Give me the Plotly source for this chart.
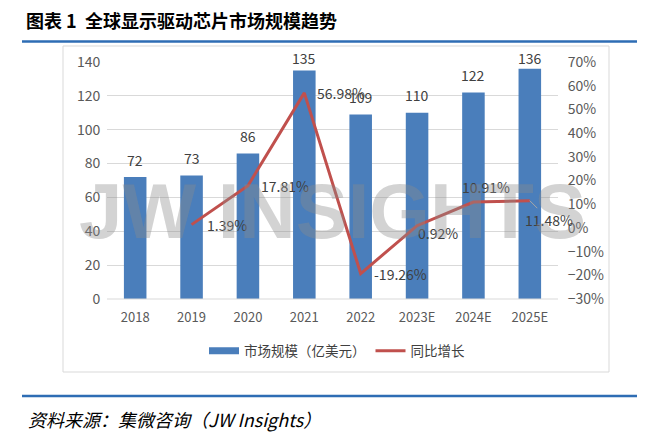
import plotly.graph_objects as go

categories = ["2018", "2019", "2020", "2021", "2022", "2023E", "2024E", "2025E"]
market_size = [72, 73, 86, 135, 109, 110, 122, 136]
growth_cats = ["2019", "2020", "2021", "2022", "2023E", "2024E", "2025E"]
growth = [0.0139, 0.1781, 0.5698, -0.1926, 0.0092, 0.1091, 0.1148]
growth_labels = ["1.39%", "17.81%", "56.98%", "-19.26%", "0.92%", "10.91%", "11.48%"]
# label offsets (px) relative to each point: (dx, dy up)
growth_label_offsets = [(35, 0), (37, 0), (37, 0), (40, 0), (21, -7), (13, 15), (19, -19)]

W, H = 660, 438
L, R, T, B = 107, 558, 62, 299
Y_MAX = 140

def px(x):
    return (x - L) / (R - L)

def py(y):
    return (B - y) / (B - T)

FONT = "Noto Sans CJK SC"
TXT = "#404040"
BLUE = "#4A7EBB"
RED = "#C0504D"

fig = go.Figure()
fig.add_trace(go.Bar(
    x=categories, y=market_size, name="市场规模（亿美元）", showlegend=False,
    marker=dict(color=BLUE, line=dict(width=0)),
))
# legend entry styled as a wide flat swatch
fig.add_trace(go.Scatter(
    x=[None], y=[None], name="市场规模（亿美元）", mode="lines",
    line=dict(color=BLUE, width=7),
))
fig.add_trace(go.Scatter(
    x=growth_cats, y=growth, name="同比增长", yaxis="y2", mode="lines",
    line=dict(color=RED, width=3),
))

annotations = []
for c, v in zip(categories, market_size):
    top_px = B - v / Y_MAX * (B - T)
    shift = min(17.5, top_px - 58)
    annotations.append(dict(x=categories.index(c), y=v, xref="x", yref="y", text=str(v), showarrow=False,
                            yanchor="middle", yshift=shift, font=dict(size=14, color=TXT, family=FONT)))
for c, v, t, (dx, dy) in zip(growth_cats, growth, growth_labels, growth_label_offsets):
    xi = categories.index(c)
    if t == "11.48%":
        annotations.append(dict(x=xi, y=v, xref="x", yref="y2", text=t, showarrow=True,
                                arrowhead=0, arrowwidth=1, arrowcolor="#a6a6a6",
                                ax=dx, ay=-dy, standoff=0,
                                font=dict(size=14, color=TXT, family=FONT)))
    else:
        annotations.append(dict(x=xi, y=v, xref="x", yref="y2", text=t, showarrow=False,
                                xshift=dx, yshift=dy, font=dict(size=14, color=TXT, family=FONT)))

# watermark
annotations.append(dict(x=px(332), y=py(211), xref="paper", yref="paper", text="<b>JW INSIGHTS</b>",
                        showarrow=False, font=dict(size=78, color="rgba(140,140,140,0.38)",
                                                   family="Liberation Sans")))
# title
annotations.append(dict(x=px(24), y=py(20), xref="paper", yref="paper", xanchor="left", yanchor="middle",
                        text="<b>图表 1  全球显示驱动芯片市场规模趋势</b>", showarrow=False,
                        font=dict(size=18, color="#000000", family=FONT)))
# source
annotations.append(dict(x=px(26), y=py(419), xref="paper", yref="paper", xanchor="left", yanchor="middle",
                        text="<i>资料来源：集微咨询（JW Insights）</i>", showarrow=False,
                        font=dict(size=18, color="#000000", family=FONT)))

shapes = [
    dict(type="line", xref="paper", yref="paper", x0=px(22), x1=px(637), y0=py(41.5), y1=py(41.5),
         line=dict(color="#2E6DB4", width=2.5)),
    dict(type="rect", xref="paper", yref="paper", x0=px(63), x1=px(609), y0=py(46), y1=py(372),
         line=dict(color="#D9D9D9", width=1), layer="below"),
    dict(type="line", xref="paper", yref="paper", x0=px(22), x1=px(637), y0=py(396), y1=py(396),
         line=dict(color="#2E6DB4", width=2.5)),
    dict(type="line", xref="paper", yref="paper", x0=0, x1=1, y0=0, y1=0,
         line=dict(color="#D9D9D9", width=1)),
]

fig.update_layout(
    width=W, height=H,
    margin=dict(l=L, r=W - R, t=T, b=H - B, autoexpand=False),
    paper_bgcolor="white", plot_bgcolor="white",
    font=dict(family=FONT, color=TXT, size=13),
    bargap=0.6,
    showlegend=True,
    legend=dict(orientation="h", x=px(337), y=py(351), xanchor="center", yanchor="middle",
                font=dict(size=13.5, color=TXT, family=FONT),
                traceorder="normal"),
    xaxis=dict(type="category", categoryorder="array", categoryarray=categories,
               range=[-0.5, len(categories) - 0.5], autorange=False,
               showgrid=False, showline=False, ticks="outside", ticklen=6,
               tickcolor="rgba(0,0,0,0)", tickfont=dict(size=13, color="#595959")),
    yaxis=dict(range=[0, Y_MAX], dtick=20, showgrid=True, gridcolor="#D9D9D9", gridwidth=1,
               zeroline=False, showline=False, ticks="outside", ticklen=3,
               tickcolor="rgba(0,0,0,0)", tickfont=dict(size=14, color="#595959")),
    yaxis2=dict(range=[-0.3, 0.7], dtick=0.1, tickformat=".0%", overlaying="y", side="right",
                showgrid=False, zeroline=False, showline=False, ticks="outside", ticklen=6,
                tickcolor="rgba(0,0,0,0)", tickfont=dict(size=14, color="#595959")),
    annotations=annotations,
    shapes=shapes,
)

fig.write_html("out.html", config={"displayModeBar": False},
               post_script="document.body.style.margin='0px';")
